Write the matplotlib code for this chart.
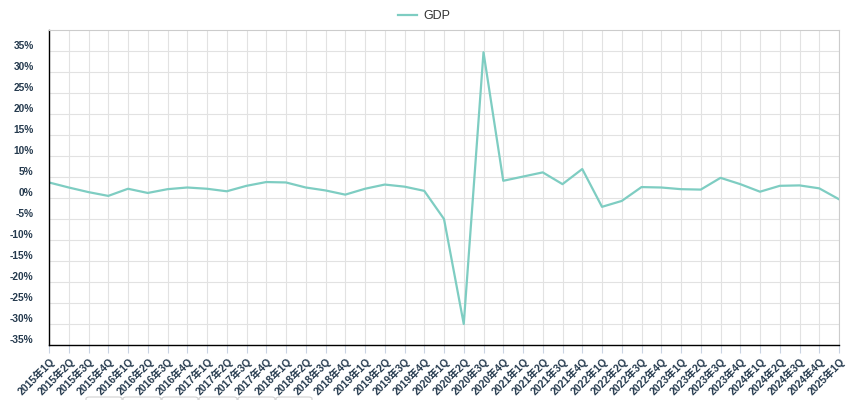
import matplotlib
matplotlib.use("Agg")
import matplotlib.pyplot as plt
import matplotlib.transforms as mtransforms
from matplotlib.patches import FancyBboxPatch

plt.rcParams['font.family'] = ['Liberation Sans', 'Noto Sans CJK SC', 'DejaVu Sans']

years = list(range(2015, 2026))
quarters = [f"{y}年{q}Q" for y in years for q in range(1, 5)][:41]

gdp = [3.7, 2.5, 1.4, 0.5, 2.2, 1.2, 2.1, 2.5, 2.2, 1.6,
       2.9, 3.8, 3.7, 2.5, 1.8, 0.8, 2.2, 3.2, 2.7, 1.7,
       -5.0, -30.0, 34.7, 4.1, 5.1, 6.1, 3.3, 6.9, -2.1, -0.7,
       2.6, 2.5, 2.1, 2.0, 4.8, 3.3, 1.5, 2.9, 3.0, 2.3, -0.3]

y_ticks = list(range(-35, 40, 5))

line_color = '#7ecdc2'
label_color = '#253a4e'

fig = plt.figure(figsize=(8.5, 4), dpi=100)
ax = fig.add_axes([49 / 850, 55 / 400, 790 / 850, 315 / 400])

x = list(range(len(quarters)))
ax.plot(x, gdp, color=line_color, linewidth=1.6, label='GDP')

ax.set_xlim(0, len(quarters) - 1)
ax.set_ylim(-35, 40)

ax.set_xticks(x)
ax.set_xticklabels(quarters, rotation=45, ha='right', va='top',
                   rotation_mode='anchor', fontsize=7.5, fontweight='bold',
                   color=label_color)
ax.tick_params(axis='x', length=6, color='#c9d3e2', pad=2)

ax.set_yticks(y_ticks)
ax.set_yticklabels([f"{v}%" for v in y_ticks], fontsize=7.3,
                   fontweight='bold', color=label_color)
ax.tick_params(axis='y', length=0, pad=11)
offset = mtransforms.ScaledTranslation(0, 6 / 100, fig.dpi_scale_trans)
for lab in ax.get_yticklabels():
    lab.set_transform(lab.get_transform() + offset)

ax.grid(True, color='#e2e2e2', linewidth=0.8)
ax.set_axisbelow(True)

for side in ['top', 'right']:
    ax.spines[side].set_color('#cccccc')
    ax.spines[side].set_linewidth(0.8)
for side in ['left', 'bottom']:
    ax.spines[side].set_color('black')
    ax.spines[side].set_linewidth(1.0)

fig.legend(loc='center', bbox_to_anchor=(424 / 850, 1 - 16 / 400),
           frameon=False, handlelength=1.5, handletextpad=0.5,
           prop={'size': 9}, labelcolor='#333333')

# faint slider boxes peeking at the bottom edge
edges = [86, 123, 162, 199, 238, 276, 313]
for a, b in zip(edges[:-1], edges[1:]):
    box = FancyBboxPatch((a / 850, -4 / 400), (b - a - 1) / 850, 7 / 400,
                         boxstyle='round,pad=0,rounding_size=0.004',
                         transform=fig.transFigure, facecolor='white',
                         edgecolor='#d0d0d0', linewidth=0.8)
    fig.patches.append(box)

fig.savefig('out.png', dpi=100)
